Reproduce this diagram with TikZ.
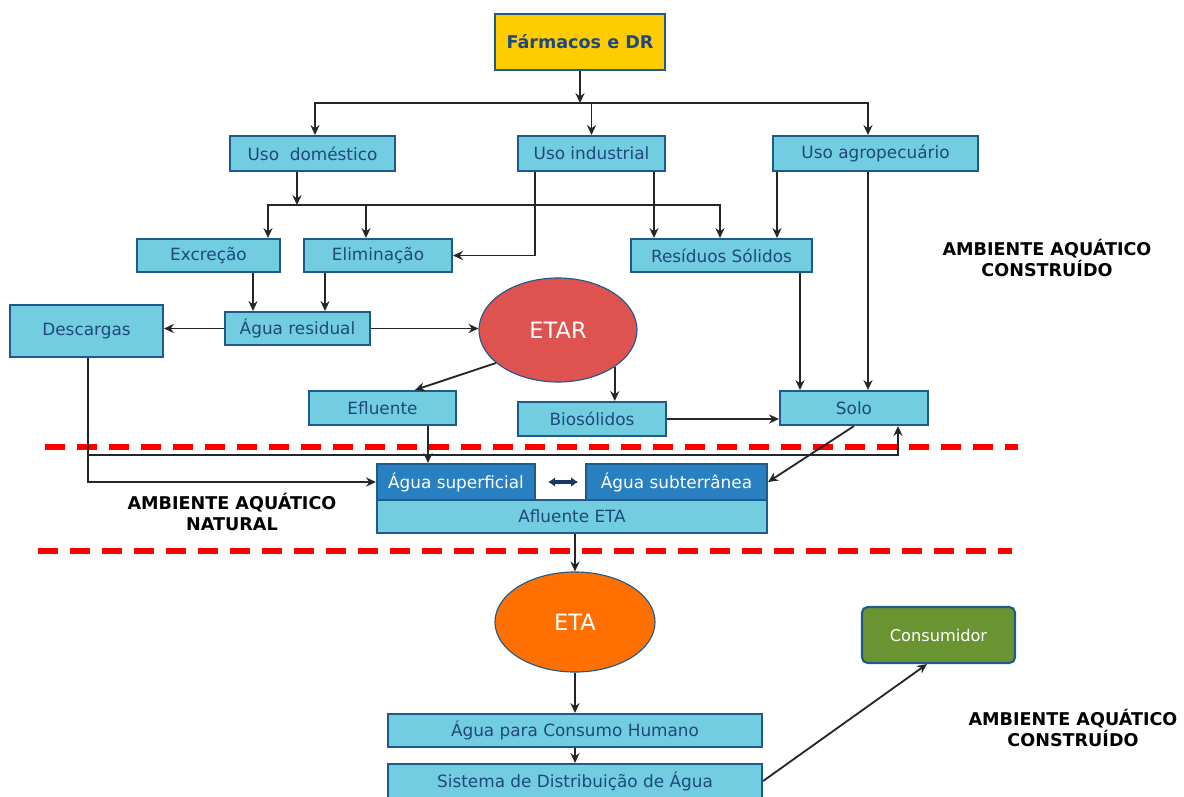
\documentclass[tikz,border=0pt]{standalone}
\usepackage{fontspec}
\setmainfont{DejaVu Sans}
\usetikzlibrary{arrows.meta,shapes.geometric,calc}

\definecolor{boxfill}{RGB}{114,205,224}
\definecolor{boxline}{RGB}{30,90,140}
\definecolor{boxtext}{RGB}{31,73,125}
\definecolor{deepfill}{RGB}{40,128,192}
\definecolor{etarred}{RGB}{222,82,80}
\definecolor{etaorange}{RGB}{255,112,0}
\definecolor{consgreen}{RGB}{106,148,50}
\definecolor{farmyellow}{RGB}{255,204,0}
\definecolor{dblnavy}{RGB}{25,55,95}

\begin{document}
\begin{tikzpicture}[x=0.025cm, y=-0.025cm,
  box/.style={draw=boxline, fill=boxfill, line width=1.5pt, inner sep=0pt,
    text=boxtext, font=\fontsize{12}{14}\selectfont},
  deepbox/.style={box, fill=deepfill, text=white},
  blob/.style={ellipse, draw=boxline, line width=0.8pt, inner sep=0pt,
    text=white, font=\fontsize{16}{18}\selectfont},
  arrow/.style={-{Stealth[length=7pt,width=6.5pt]}, line width=1.3pt, draw=black!85},
  dblarrow/.style={{Latex[length=5pt,width=7pt]}-{Latex[length=5pt,width=7pt]},
    line width=2.5pt, draw=dblnavy},
  zone/.style={draw=red, line width=4.5pt, dash pattern=on 0.5cm off 0.3cm},
  tag/.style={font=\fontsize{12.5}{15}\selectfont\bfseries, align=center}
]
\useasboundingbox (0,0) rectangle (1184,796);

% boxes
\node[box, fill=farmyellow, font=\fontsize{12.5}{14}\selectfont\bfseries,
  minimum width=4.25cm, minimum height=1.4cm] (farm) at (580,42) {Fármacos e DR};
\node[box, minimum width=4.125cm, minimum height=0.875cm] (dom) at (312.5,153.5) {Uso\ \ doméstico};
\node[box, minimum width=3.675cm, minimum height=0.875cm] (ind) at (591.5,153.5) {Uso industrial};
\node[box, minimum width=5.125cm, minimum height=0.875cm] (agro) at (875.5,153.5) {Uso agropecuário};
\node[box, minimum width=3.575cm, minimum height=0.825cm] (excr) at (208.5,255.5) {Excreção};
\node[box, minimum width=3.7cm, minimum height=0.825cm] (elim) at (378,255.5) {Eliminação};
\node[box, minimum width=4.525cm, minimum height=0.825cm] (resid) at (721.5,255.5) {Resíduos Sólidos};
\node[box, minimum width=3.625cm, minimum height=0.825cm] (agres) at (297.5,328.5) {Água residual};
\node[box, minimum width=3.825cm, minimum height=1.3cm] (desc) at (86.5,331) {Descargas};
\node[blob, fill=etarred, minimum width=3.95cm, minimum height=2.6cm] (etar) at (558,330) {ETAR};
\node[box, minimum width=3.675cm, minimum height=0.85cm] (eflu) at (382.5,408) {Efluente};
\node[box, minimum width=3.7cm, minimum height=0.85cm] (bios) at (592,419) {Biosólidos};
\node[box, minimum width=3.7cm, minimum height=0.85cm] (solo) at (854,408) {Solo};
\node[deepbox, minimum width=3.95cm, minimum height=0.9cm] (asup) at (456,482) {Água superficial};
\node[deepbox, minimum width=4.525cm, minimum height=0.9cm] (asub) at (676.5,482) {Água subterrânea};
\node[box, minimum width=9.75cm, minimum height=0.825cm] (aflu) at (572,516.5) {Afluente ETA};
\node[blob, fill=etaorange, minimum width=4cm, minimum height=2.5cm] (eta) at (575,622) {ETA};
\node[box, minimum width=9.35cm, minimum height=0.825cm] (acons) at (575,730.5) {Água para Consumo Humano};
\node[box, minimum width=9.35cm, minimum height=0.85cm] (sist) at (575,781) {Sistema de Distribuição de Água};
\node[box, fill=consgreen, text=white, rounded corners=4pt, font=\fontsize{11.5}{14}\selectfont,
  minimum width=3.825cm, minimum height=1.4cm] (cons) at (938.5,635) {Consumidor};

% zones
\node[tag] (tagtop) at (1047,258) {AMBIENTE AQUÁTICO\\CONSTRUÍDO};
\node[tag] (tagnat) at (232,512) {AMBIENTE AQUÁTICO\\NATURAL};
\node[tag] (tagbot) at (1073,728) {AMBIENTE AQUÁTICO\\CONSTRUÍDO};
\draw[zone] (45,447) -- (1018,447);
\draw[zone] (38,551) -- (1012,551);

% sources
\coordinate (bus1) at (580,103);
\draw[arrow] (farm) -- (bus1);
\draw[arrow] (bus1) -| ($(dom.north)+(2.5,0)$);
\draw[arrow] (bus1) -| (ind.north);
\draw[arrow] (bus1) -| ($(agro.north)+(-7.5,0)$);

\coordinate (bus2) at (297,205);
\draw[arrow] ($(dom.south)+(-15.5,0)$) -- (bus2);
\draw[arrow] (bus2) -| ($(excr.north)+(59.5,0)$);
\draw[arrow] (bus2) -| ($(elim.north)+(-12,0)$);
\draw[arrow] (bus2) -| ($(resid.north)+(-1.5,0)$);

\draw[arrow] ($(ind.south)+(-56.5,0)$) |- (elim.east);
\draw[arrow] ($(ind.south)+(62.5,0)$) coordinate (indr) -- (indr |- resid.north);
\draw[arrow] ($(agro.south)+(-98.5,0)$) coordinate (agrol) -- (agrol |- resid.north);
\draw[arrow] ($(agro.south)+(-7.5,0)$) coordinate (agror) -- (agror |- solo.north);

% waste water
\draw[arrow] ($(excr.south)+(44.5,0)$) coordinate (excd) -- (excd |- agres.north);
\draw[arrow] ($(elim.south)+(-53,0)$) coordinate (elid) -- (elid |- agres.north);
\draw[arrow] ($(resid.south)+(78.5,0)$) coordinate (resd) -- (resd |- solo.north);
\draw[arrow] (agres.west) -- (agres.west -| desc.east);
\draw[arrow] (agres.east) -- (agres.east -| etar.west);
\draw[arrow] (etar.208) -- ($(eflu.north)+(32.5,0)$);
\draw[arrow] (etar.327) -- (etar.327 |- bios.north);
\draw[arrow] (bios.east) -- (bios.east -| solo.west);

% natural water
\draw[arrow] ($(eflu.south)+(45.5,0)$) coordinate (efd) -- (efd |- asup.north);
\draw[arrow] ($(desc.south)+(1.5,0)$) |- (asup.west);
\coordinate (split) at ($(desc.south)+(1.5,97)$);
\draw[arrow] (split) -| ($(solo.south)+(44,0)$);
\draw[arrow] (solo.south) -- (asub.east);
\draw[dblarrow, shorten <=0.3cm, shorten >=0.17cm] (asup.east) -- (asub.west);

% treatment and supply
\draw[arrow] (aflu.south -| eta.north) -- (eta.north);
\draw[arrow] (eta.south) -- (acons.north);
\draw[arrow] (acons.south) -- (sist.north);
\draw[arrow] (sist.east) -- ($(cons.south)+(-11.5,0)$);
\end{tikzpicture}
\end{document}
